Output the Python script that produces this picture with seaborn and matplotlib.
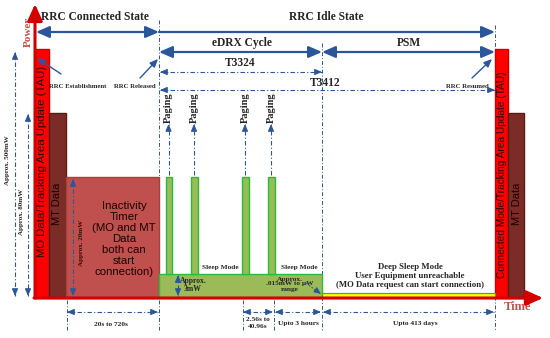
import matplotlib
matplotlib.use('Agg')
import matplotlib.pyplot as plt
import seaborn as sns

# bars of the power profile (x in px of the time line, level = power height above baseline)
seg_names = ['MO Data/Tracking Area Update (TAU)', 'MT Data', 'Inactivity Timer', 'eDRX light sleep',
             'Connected Mode/Tracking Area Update (TAU)', 'MT Data']
seg_start = [35, 49, 66, 159, 495, 508]
seg_end = [49, 66, 159, 322, 508, 524]
seg_level = [249, 185, 121, 24, 249, 185]

paging_start = [166, 191, 242, 268]
paging_end = [172, 198, 249, 275]
paging_level = [121, 121, 121, 121]

deep_start = [322]
deep_end = [495]
deep_level = [5]

BASE = 298
BLUE = '#2b579a'
RED = '#ff0000'
SERIF = ['Liberation Serif', 'DejaVu Serif']
SANS = ['Liberation Sans', 'DejaVu Sans']

sns.set_style('white')
plt.rcParams['font.family'] = SERIF

fig = plt.figure(figsize=(5.5, 3.38), dpi=100)
ax = fig.add_axes([0, 0, 1, 1])
ax.set_xlim(0, 550)
ax.set_ylim(338, 0)
ax.axis('off')

seg_fill = [RED, '#7b2c26', '#c0504d', '#9bbb59', RED, '#7b2c26']
seg_edge = ['#d00000', '#5c1a16', '#a8403c', '#22c03a', '#d00000', '#5c1a16']
for s, e, lv, fc, ec in zip(seg_start, seg_end, seg_level, seg_fill, seg_edge):
    ax.bar(s, -lv, width=e - s, bottom=BASE, align='edge', color=fc, edgecolor=ec, lw=1.0, zorder=2)
for s, e, lv in zip(paging_start, paging_end, paging_level):
    ax.bar(s, -(lv - seg_level[3]), width=e - s, bottom=BASE - seg_level[3], align='edge',
           color='#9bbb59', edgecolor='#22c03a', lw=1.0, zorder=2)
for s, e, lv in zip(deep_start, deep_end, deep_level):
    ax.bar(s, -lv, width=e - s, bottom=BASE, align='edge', color='#ffff00', edgecolor='#22c03a', lw=0.9, zorder=2)


def arrow(x0, y0, x1, y1, style='<|-|>', lw=1.6, color=BLUE, hl=0.8, hw=0.35, ms=10):
    ax.annotate('', xy=(x1, y1), xytext=(x0, y0),
                arrowprops=dict(arrowstyle=f'{style},head_length={hl},head_width={hw}', color=color,
                                lw=lw, mutation_scale=ms, shrinkA=0, shrinkB=0), zorder=4)


def dotted(x0, y0, x1, y1, heads='both', lw=0.8):
    ax.plot([x0, x1], [y0, y1], color=BLUE, lw=lw, ls=(0, (4, 2, 1, 2)), zorder=3)
    dx, dy = x1 - x0, y1 - y0
    n = (dx * dx + dy * dy) ** 0.5
    ux, uy = dx / n * 6, dy / n * 6
    if heads in ('both', 'end'):
        arrow(x1 - ux, y1 - uy, x1, y1, style='-|>', lw=0.8, hl=0.7, hw=0.3, ms=6)
    if heads in ('both', 'start'):
        arrow(x0 + ux, y0 + uy, x0, y0, style='-|>', lw=0.8, hl=0.7, hw=0.3, ms=6)


def vline(x, y0, y1):
    ax.plot([x, x], [y0, y1], color=BLUE, lw=0.7, ls=(0, (4, 2, 1, 2)), zorder=1)


# axes of the diagram
arrow(34, BASE, 543, BASE, style='-|>', lw=2.2, color='#d40000', hl=1.0, hw=0.45, ms=10)
arrow(35, BASE, 35, 4, style='-|>', lw=2.2, color='#d40000', hl=1.0, hw=0.45, ms=10)
ax.text(517, 307, 'Time', color='#c0504d', fontsize=9, fontweight='bold', ha='center', va='center')
ax.text(28, 32, 'Power', color='#c0504d', fontsize=8, fontweight='bold', ha='center', va='center', rotation=90)

# vertical guides
vline(159, 20, 330)
vline(322, 43, 330)
vline(495, 25, 330)
for x in [67, 243, 274]:
    vline(x, 300, 330)

# state arrows
arrow(36, 32, 159, 32)
arrow(159, 32, 495, 32, style='-|>')
arrow(159, 52, 322, 52, style='<|-|>')
arrow(322, 52, 495, 52, style='<|-|>')
ax.text(95, 17, 'RRC Connected State', fontsize=8.3, fontweight='bold', ha='center', va='center')
ax.text(326, 17, 'RRC Idle State', fontsize=8.3, fontweight='bold', ha='center', va='center')
ax.text(242, 43, 'eDRX Cycle', fontsize=8.3, fontweight='bold', ha='center', va='center')
ax.text(409, 43, 'PSM', fontsize=8.3, fontweight='bold', ha='center', va='center')
dotted(160, 72, 322, 72)
dotted(160, 90, 495, 90)
ax.text(240, 63, 'T3324', fontsize=8.3, fontweight='bold', ha='center', va='center')
ax.text(325, 83, 'T3412', fontsize=8.3, fontweight='bold', ha='center', va='center')

ax.text(78, 86, 'RRC Establishment', fontsize=4.9, fontweight='bold', ha='center', va='center')
ax.text(135, 86, 'RRC Released', fontsize=4.9, fontweight='bold', ha='center', va='center')
ax.text(467, 86, 'RRC Resumed', fontsize=4.9, fontweight='bold', ha='center', va='center')
arrow(61, 74, 37, 58, style='-|>', lw=1.0, hl=0.8, hw=0.35, ms=6)
arrow(140, 78, 158, 59, style='-|>', lw=1.0, hl=0.8, hw=0.35, ms=6)
arrow(472, 78, 492, 59, style='-|>', lw=1.0, hl=0.8, hw=0.35, ms=6)

# paging
for s, e in zip(paging_start, paging_end):
    xc = (s + e) / 2 - 0.5
    ax.text(xc, 108, 'Paging', fontsize=7.5, fontweight='bold', ha='center', va='center', rotation=90)
    dotted(xc, 175, xc, 124, heads='end')

# texts inside bars
ax.text(42, 161, seg_names[0], family=SANS, fontsize=8.2, color='#1a0000', ha='center', va='center', rotation=90)
ax.text(57.5, 204, seg_names[1], family=SANS, fontsize=8, color='#1a0000', ha='center', va='center', rotation=90)
ax.text(502, 175, seg_names[4], family=SANS, fontsize=7.3, color='#1a0000', ha='center', va='center', rotation=90)
ax.text(516.5, 204, seg_names[5], family=SANS, fontsize=8, color='#1a0000', ha='center', va='center', rotation=90)
ax.text(124, 239, 'Inactivity\nTimer\n(MO and MT\nData\nboth can\nstart\nconnection)', family=SANS,
        fontsize=8.2, color='#1a0000', ha='center', va='center', linespacing=1.12)

# power annotations
dotted(15, 52, 15, 296)
dotted(28, 114, 28, 296)
dotted(73, 179, 73, 296)
dotted(178, 275, 178, 296)
ax.text(8, 160, 'Approx. 500mW', fontsize=5, fontweight='bold', ha='center', va='center', rotation=90)
ax.text(22, 212, 'Approx. 80mW', fontsize=5, fontweight='bold', ha='center', va='center', rotation=90)
ax.text(82, 243, 'Approx. 20mW', fontsize=5, fontweight='bold', ha='center', va='center', rotation=90, color='#3a0a05')
ax.text(193, 285, 'Approx.\n3mW', fontsize=5.5, fontweight='bold', ha='center', va='center', linespacing=1.1)
ax.text(220, 267, 'Sleep Mode', fontsize=5.3, fontweight='bold', ha='center', va='center')
ax.text(299, 267, 'Sleep Mode', fontsize=5.3, fontweight='bold', ha='center', va='center')
ax.text(290, 284, 'Approx.\n.015mW to \u00b5W\nrange', fontsize=5.3, fontweight='bold', ha='center', va='center',
        linespacing=1.0)
ax.plot([306, 318], [283, 292], color=BLUE, lw=0.7, ls=(0, (2, 1.5)), zorder=3)
arrow(317, 291, 321, 294, style='-|>', lw=0.7, hl=0.7, hw=0.3, ms=6)
ax.text(410, 276, 'Deep Sleep Mode\nUser Equipment unreachable\n(MO Data request can start connection)',
        fontsize=6.3, fontweight='bold', ha='center', va='center', linespacing=1.2)

# durations
dotted(67, 312, 158, 312)
dotted(243, 312, 273, 312)
dotted(275, 312, 321, 312)
dotted(323, 312, 494, 312)
ax.text(111, 324, '20s to 720s', fontsize=5.3, fontweight='bold', ha='center', va='center')
ax.text(258, 323, '2.56s to\n40.96s', fontsize=5.3, fontweight='bold', ha='center', va='center', linespacing=1.3)
ax.text(298, 324, 'Upto 3 hours', fontsize=5.3, fontweight='bold', ha='center', va='center')
ax.text(415, 324, 'Upto 413 days', fontsize=5.3, fontweight='bold', ha='center', va='center')

fig.savefig('out.png', dpi=100)
